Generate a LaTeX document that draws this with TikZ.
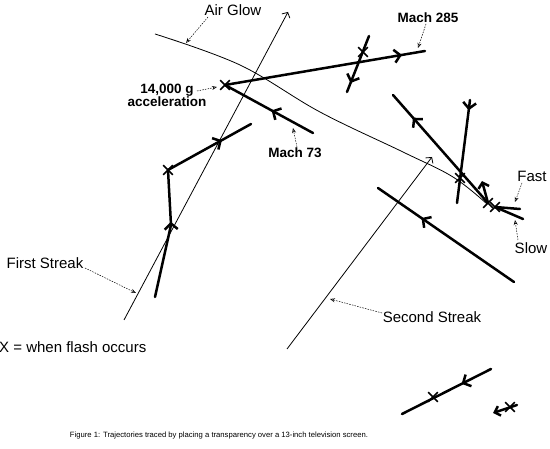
\documentclass[tikz,border=0pt]{standalone}
\usepackage{fontspec}
\setmainfont{Liberation Sans}
\usetikzlibrary{arrows.meta,decorations.markings,shapes.misc}
\begin{document}
\begin{tikzpicture}[x=1pt,y=-1pt,
  thinline/.style={line width=0.8pt},
  traj/.style={line width=2.5pt, line cap=round},
  chev/.style={postaction={decorate},decoration={markings,mark=at position #1 with {\arrow{Straight Barb[length=6pt,width=13pt]}}}},
  xmark/.style={draw, cross out, line width=1.6pt, minimum size=8pt, inner sep=0pt},
  lbl/.style={font=\fontsize{15}{18}\selectfont, inner sep=0pt},
  blbl/.style={font=\fontsize{13.5}{13}\selectfont\bfseries, inner sep=0pt, align=center},
  pointer/.style={line width=0.5pt, dash pattern=on 1.5pt off 1.2pt, -{Stealth[open,length=5pt,width=4pt]}},
  opentip/.style={-{Straight Barb[length=4pt,width=9pt]}}
]
\useasboundingbox (0,0) rectangle (550,449);

% ---------- thin streaks ----------
\coordinate (fs1) at (124,320); \coordinate (fs2) at (288,12);
\draw[thinline,opentip] (fs1) -- (fs2);
\coordinate (ss1) at (287,349); \coordinate (ss2) at (432,157);
\draw[thinline,opentip] (ss1) -- (ss2);
\draw[thinline] plot[smooth,tension=0.6] coordinates {(155,34) (240,65) (320,112) (403,152) (453,177) (487,204)};

% ---------- X marks ----------
\node[xmark] (xa) at (225,85) {};
\node[xmark] (xc) at (363,52) {};
\node[xmark] (xb) at (168,170) {};
\node[xmark] (xe) at (460,178) {};
\node[xmark] (xf) at (488,203) {};
\node[xmark] (xg) at (495,207) {};
\node[xmark] (xi) at (433,397) {};
\node[xmark] (xj) at (510,407) {};

% ---------- trajectories ----------
\coordinate (m285end) at (425,51);
\draw[traj,chev=0.885] (xa.center) -- (m285end);
\coordinate (b1) at (369,36); \coordinate (b2) at (347,92);
\draw[traj,chev=0.84] (b1) -- (b2);
\coordinate (m73end) at (313,133);
\draw[traj,chev=0.47] (m73end) -- (xa.center);

\coordinate (l1end) at (251,124);
\draw[traj,chev=0.65] (xb.center) -- (l1end);
\coordinate (l2kink) at (171,225); \coordinate (l2bot) at (155,297);
\draw[traj] (l2bot) -- (l2kink);
\draw[traj,chev=0.06] (l2kink) -- (xb.center);

\coordinate (d1) at (393,95);
\draw[traj,chev=0.79] (xf.center) -- (d1);
\coordinate (e1) at (470,100); \coordinate (e2) at (457,203);
\draw[traj,chev=0.1] (e1) -- (e2);
\coordinate (f2) at (482,181);
\draw[traj,-{Straight Barb[length=5pt,width=11pt]}] (xf.center) -- (f2);
\coordinate (fastend) at (520,209); \coordinate (slowend) at (523,219);
\draw[traj] (xg.center) -- (fastend);
\draw[traj] (xg.center) -- (slowend);
\coordinate (h1) at (378,188); \coordinate (h2) at (514,282);
\draw[traj,chev=0.68] (h2) -- (h1);

\coordinate (i1) at (402,414); \coordinate (i2) at (491,369);
\draw[traj,chev=0.33] (i2) -- (i1);
\coordinate (j1) at (517,405); \coordinate (j2) at (493,413);
\draw[traj,-{Straight Barb[length=5pt,width=10pt]}] (j1) -- (j2);

% ---------- labels ----------
\node[lbl] (airglow) at (233,10) {Air Glow};
\coordinate (ag1) at (208,17); \coordinate (ag2) at (186,43);
\draw[pointer] (ag1) -- (ag2);

\node[lbl] (first) at (45,263) {First Streak};
\coordinate (fp1) at (85,268); \coordinate (fp2) at (136,293);
\draw[pointer] (fp1) -- (fp2);

\node[lbl,anchor=west] (legend) at (-1,347) {X = when flash occurs};

\node[lbl] (second) at (432,317) {Second Streak};
\coordinate (sp1) at (382,313); \coordinate (sp2) at (330,299);
\draw[pointer] (sp1) -- (sp2);

\node[blbl] (mach285) at (428,18) {Mach 285};
\coordinate (mp1) at (426,24); \coordinate (mp2) at (418,48);
\draw[pointer] (mp1) -- (mp2);

\node[blbl] (mach73) at (295,153) {Mach 73};
\coordinate (np1) at (297,147); \coordinate (np2) at (293,128);
\draw[pointer] (np1) -- (np2);

\node[blbl] (accel) at (167,95) {14,000 g\\acceleration};
\coordinate (ap1) at (197,91); \coordinate (ap2) at (217,87);
\draw[pointer] (ap1) -- (ap2);

\node[lbl] (fast) at (532,176) {Fast};
\coordinate (fa1) at (522,183); \coordinate (fa2) at (515,202);
\draw[pointer] (fa1) -- (fa2);

\node[lbl] (slow) at (531,248) {Slow};
\coordinate (sl1) at (518,240); \coordinate (sl2) at (515,220);
\draw[pointer] (sl1) -- (sl2);

\node[inner sep=0pt] (caption) at (219,436) {\resizebox{298pt}{!}{Figure 1: Trajectories traced by placing a transparency over a 13-inch television screen.}};
\end{tikzpicture}
\end{document}
